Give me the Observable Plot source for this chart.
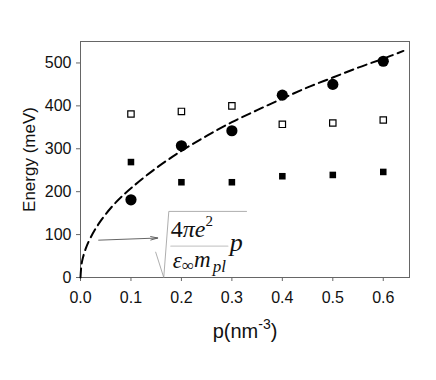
<!DOCTYPE html>
<html><head><meta charset="utf-8">
<script src="https://cdn.jsdelivr.net/npm/d3@7"></script>
<script src="https://cdn.jsdelivr.net/npm/@observablehq/plot@0.6"></script>
<style>body{margin:0;background:#fff}#chart{width:436px;height:380px}</style>
</head><body><div id="chart"></div>
<script>
// ---- data ----
const pValues = [0.1, 0.2, 0.3, 0.4, 0.5, 0.6];
const circleEnergy = [181, 307, 342, 425, 450, 504];
const openSquareEnergy = [381, 387, 400, 357, 360, 367];
const filledSquareEnergy = [269, 222, 222, 236, 239, 246];
// dashed curve (sqrt(4πe²p/ε∞m_pl))
const curveP = [0, 0.002, 0.005, 0.01, 0.02, 0.04, 0.07, 0.1, 0.15, 0.2, 0.25, 0.3, 0.35, 0.4, 0.45, 0.5, 0.55, 0.6, 0.64];
const curveE = [0, 30, 47, 66, 93, 132, 175, 208, 255, 295, 330, 362, 390, 417, 443, 466, 489, 510, 528];
const xTicks = [0, 0.1, 0.2, 0.3, 0.4, 0.5, 0.6];
const yTicks = [0, 100, 200, 300, 400, 500];
const xLabel = "p(nm";
const xLabelSup = "-3";
const yLabel = "Energy (meV)";
const numeratorText = "4πe2";
const denominatorText = "ε∞mpl";

const pts = (ys) => pValues.map((p, i) => ({p, e: ys[i]}));
const curve = curveP.map((p, i) => ({p, e: curveE[i]}));

const serif = "'Liberation Serif', 'Times New Roman', serif";
const plot = Plot.plot({
  width: 436, height: 380,
  marginLeft: 80, marginRight: 27, marginTop: 41, marginBottom: 103,
  style: {fontFamily: "'Liberation Sans', Arial, sans-serif", fontSize: "16px", color: "#111", background: "#fff"},
  x: {domain: [0, 0.652]},
  y: {domain: [0, 550]},
  marks: [
    Plot.frame({stroke: "#666", strokeWidth: 1}),
    Plot.axisX({ticks: xTicks, tickFormat: d3.format(".1f"), tickSize: 4, tickPadding: 10, stroke: "#666", label: xLabel, labelAnchor: "center", labelOffset: 60, labelArrow: "none", fontSize: 16}),
    Plot.axisY({ticks: yTicks, tickSize: 4, tickPadding: 5, stroke: "#666", label: yLabel, labelAnchor: "center", labelOffset: 58, labelArrow: "none", fontSize: 16}),
    // annotation: radical sign
    Plot.line([{p: 0.149, e: 59}, {p: 0.165, e: 0}, {p: 0.175, e: 154}, {p: 0.329, e: 154}], {x: "p", y: "e", stroke: "#999", strokeWidth: 0.8, curve: "linear"}),
    // fraction bar
    Plot.line([{p: 0.179, e: 73}, {p: 0.292, e: 73}], {x: "p", y: "e", stroke: "#ccc", strokeWidth: 1.2}),
    Plot.text([{p: 0.179, e: 94}], {x: "p", y: "e", text: () => numeratorText, fontFamily: serif, fontSize: 24, lineAnchor: "bottom", textAnchor: "start", fill: "#111"}),
    Plot.text([{p: 0.183, e: 22}], {x: "p", y: "e", text: () => denominatorText, fontFamily: serif, fontSize: 23, lineAnchor: "bottom", textAnchor: "start", fill: "#111"}),
    Plot.text([{p: 0.296, e: 62}], {x: "p", y: "e", text: () => "p", fontFamily: serif, fontStyle: "italic", fontSize: 26, lineAnchor: "bottom", textAnchor: "start", fill: "#111"}),
    // arrow
    Plot.arrow([{x1: 0.036, y1: 87, x2: 0.153, y2: 92}], {x1: "x1", y1: "y1", x2: "x2", y2: "y2", stroke: "#555", strokeWidth: 0.9, headLength: 12, headAngle: 28}),
    // dashed curve
    Plot.line(curve, {x: "p", y: "e", stroke: "#000", strokeWidth: 2, strokeDasharray: "9,5", curve: "catmull-rom"}),
    Plot.dot(pts(openSquareEnergy), {x: "p", y: "e", symbol: "square", r: 3.6, fill: "#fff", stroke: "#000", strokeWidth: 1.2}),
    Plot.dot(pts(filledSquareEnergy), {x: "p", y: "e", symbol: "square", r: 3.7, fill: "#000", stroke: "none"}),
    Plot.dot(pts(circleEnergy), {x: "p", y: "e", r: 5.6, fill: "#000", stroke: "none"})
  ]
});
document.getElementById("chart").appendChild(plot);
const svg = d3.select(plot);
svg.selectAll("text").each(function() {
  const t = d3.select(this);
  const s = t.text();
  if (s === xLabel) {
    t.text("").attr("font-size", "20px");
    t.append("tspan").text(xLabel);
    t.append("tspan").attr("font-size", "14px").attr("dy", "-0.6em").text(xLabelSup);
    t.append("tspan").attr("dy", "0.42em").text(")");
  } else if (s === yLabel) {
    t.attr("font-size", "17px");
  } else if (s === numeratorText) {
    t.text("");
    t.append("tspan").text("4");
    t.append("tspan").attr("font-style", "italic").text("πe");
    t.append("tspan").attr("font-size", "15px").attr("dy", "-0.75em").text("2");
  } else if (s === denominatorText) {
    t.text("");
    t.append("tspan").attr("font-style", "italic").text("ε");
    t.append("tspan").attr("font-size", "17px").attr("dy", "0.15em").text("∞");
    t.append("tspan").attr("font-style", "italic").attr("dy", "-0.15em").text("m");
    t.append("tspan").attr("font-style", "italic").attr("font-size", "17px").attr("dy", "0.3em").attr("dx", "2").text("pl");
  }
});
</script>
</body></html>
